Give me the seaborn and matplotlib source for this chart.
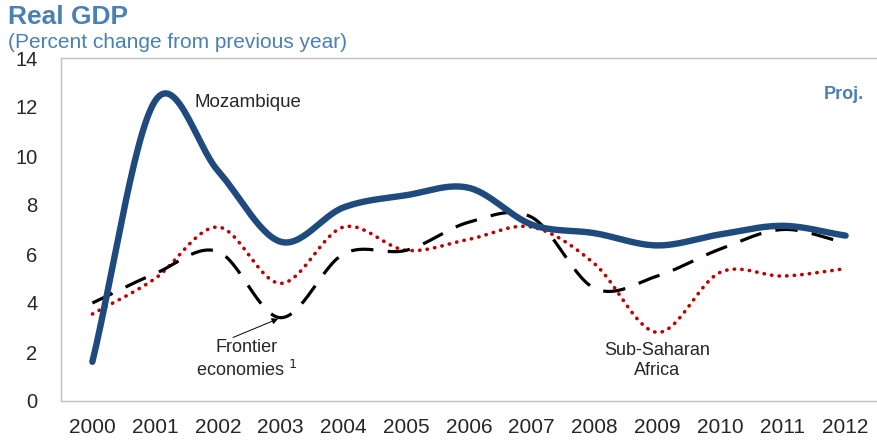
import numpy as np
import pandas as pd
import matplotlib
matplotlib.use("Agg")
import matplotlib.pyplot as plt
import seaborn as sns

sns.set_style("white")
plt.rcParams["font.family"] = ["Liberation Sans", "DejaVu Sans"]

years = ["2000", "2001", "2002", "2003", "2004", "2005", "2006",
         "2007", "2008", "2009", "2010", "2011", "2012"]
mozambique = [1.6, 12.25, 9.4, 6.5, 7.9, 8.4, 8.7, 7.2, 6.85, 6.35, 6.8, 7.15, 6.75]
frontier = [4.0, 5.2, 6.1, 3.4, 6.0, 6.15, 7.3, 7.5, 4.6, 5.1, 6.2, 7.0, 6.45]
ssa = [3.55, 5.0, 7.1, 4.8, 7.1, 6.15, 6.6, 7.1, 5.6, 2.8, 5.25, 5.1, 5.4]

blue = "#1F4A7E"
title_blue = "#4A80B4"
red = "#C00000"
gray = "#BFBFBF"


def smooth(y, n=30):
    # catmull-rom style smoothing, like the "smoothed line" option in excel charts
    y = np.asarray(y, dtype=float)
    x = np.arange(len(y), dtype=float)
    px = np.concatenate([[2 * x[0] - x[1]], x, [2 * x[-1] - x[-2]]])
    py = np.concatenate([[2 * y[0] - y[1]], y, [2 * y[-1] - y[-2]]])
    xs, ys = [], []
    for i in range(1, len(px) - 2):
        t = np.linspace(0, 1, n, endpoint=False)
        for arr, out in ((px, xs), (py, ys)):
            p0, p1, p2, p3 = arr[i - 1], arr[i], arr[i + 1], arr[i + 2]
            out.extend(0.5 * ((2 * p1) + (-p0 + p2) * t
                              + (2 * p0 - 5 * p1 + 4 * p2 - p3) * t ** 2
                              + (-p0 + 3 * p1 - 3 * p2 + p3) * t ** 3))
    xs.append(x[-1])
    ys.append(y[-1])
    return pd.DataFrame({"x": xs, "y": ys})


fig = plt.figure(figsize=(8.77, 4.41), dpi=100)
ax = fig.add_axes([61 / 877, 40 / 441, 816 / 877, 343 / 441])

d = smooth(ssa)
sns.lineplot(data=d, x="x", y="y", ax=ax, color=red, lw=2.6, sort=False)
ax.lines[-1].set_linestyle((0, (0.1, 2.0)))
ax.lines[-1].set_dash_capstyle("round")

d = smooth(frontier)
sns.lineplot(data=d, x="x", y="y", ax=ax, color="black", lw=2.3, sort=False)
ax.lines[-1].set_linestyle((0, (7, 4.5)))

d = smooth(mozambique)
sns.lineplot(data=d, x="x", y="y", ax=ax, color=blue, lw=4.6, sort=False,
             solid_capstyle="round")

ax.set_xlim(-0.5, 12.5)
ax.set_ylim(0, 14)
ax.set_xlabel("")
ax.set_ylabel("")

ax.set_xticks(np.arange(-0.5, 13, 1))
ax.set_xticklabels([])
ax.set_xticks(range(len(years)), minor=True)
ax.set_xticklabels(years, minor=True, fontsize=15)
ax.tick_params(axis="x", which="major", length=6, color=gray, width=1, direction="out")
ax.tick_params(axis="x", which="minor", length=0, pad=12)
ax.set_yticks(range(0, 15, 2))
ax.tick_params(axis="y", length=7, color=gray, direction="in", labelsize=14.5, pad=17)
for lbl in ax.get_yticklabels():
    lbl.set_horizontalalignment("right")

for s in ["left", "bottom", "top"]:
    ax.spines[s].set_color(gray)
    ax.spines[s].set_linewidth(1)
ax.spines["right"].set_visible(False)

ax.text(1.63, 12.2, "Mozambique", fontsize=13.5, ha="left", va="center")
ax.text(2.45, 1.7, "Frontier\neconomies $^1$", fontsize=13, ha="center", va="center",
        linespacing=1.25)
ax.annotate("", xy=(3.0, 3.4), xytext=(2.2, 2.55),
            arrowprops=dict(arrowstyle="-|>", color="black", lw=0.7, mutation_scale=9))
ax.text(9.0, 1.65, "Sub-Saharan\nAfrica", fontsize=13, ha="center", va="center",
        linespacing=1.25)
ax.text(11.98, 12.5, "Proj.", fontsize=13, fontweight="bold", color=title_blue,
        ha="center", va="center")

fig.text(8 / 877, 1 - 17 / 441, "Real GDP", fontsize=19, fontweight="bold",
         color=title_blue, ha="left", va="center")
fig.text(8 / 877, 1 - 42 / 441, "(Percent change from previous year)", fontsize=15,
         color=title_blue, ha="left", va="center")

fig.savefig("out.png", dpi=100)
